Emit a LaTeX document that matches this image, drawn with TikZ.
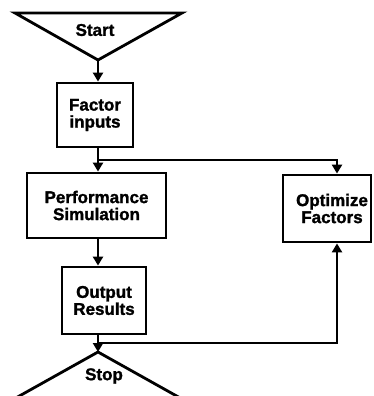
\documentclass[tikz,border=0pt]{standalone}
\usepackage{fontspec}
\setmainfont{Liberation Sans}[BoldFeatures={FakeBold=1.5}]
\usetikzlibrary{arrows.meta}
\begin{document}
\begin{tikzpicture}[x=1pt,y=-1pt,
  line width=2.8pt,
  txt/.style={inner sep=0pt, align=center, font=\fontsize{17}{17}\selectfont\bfseries},
  box/.style={txt, draw, line width=2.8pt},
  flow/.style={-{Triangle[length=9pt,width=10pt]}, line width=2.8pt},
]
\useasboundingbox (0,0) rectangle (373,396);
\clip (0,0) rectangle (373,396);

% start terminal (downward triangle)
\coordinate (sl) at (15,13);
\coordinate (sr) at (182,13);
\coordinate (sa) at (98,60);
\draw[line join=miter] (sl) -- (sr) -- (sa) -- cycle;
\node[txt] (start) at (95,30) {Start};

% process boxes
\node[box, minimum width=76pt, minimum height=64pt] (fi) at (95,115) {Factor\\inputs};
\node[box, minimum width=139pt, minimum height=65pt] (ps) at (96.5,205.5) {Performance\\Simulation};
\node[box, minimum width=84pt, minimum height=67pt] (or) at (104,300.5) {Output\\Results};
\node[box, minimum width=88pt, minimum height=67pt] (of) at (327,208.5)
  {\hspace*{10pt}Optimize\\\hspace*{10pt}Factors};

% stop terminal (upward triangle)
\coordinate (ta) at (98,352);
\coordinate (tl) at (14,399);
\coordinate (tr) at (182,399);
\draw[line join=miter] (ta) -- (tr) -- (tl) -- cycle;
\node[txt] (stop) at (104,376) {Stop};

% connectors
\coordinate (ox) at (337,0);
\coordinate (b1) at (98,160);
\coordinate (b2) at (98,343);
\draw[flow] (sa) -- (sa |- fi.north);
\draw[flow] (sa |- fi.south) -- (sa |- ps.north);
\draw[flow] (b1) -| (ox |- of.north);
\draw[flow] (sa |- ps.south) -- (sa |- or.north);
\draw[flow] (sa |- or.south) -- (ta);
\draw[flow] (b2) -| (ox |- of.south);
\end{tikzpicture}
\end{document}
